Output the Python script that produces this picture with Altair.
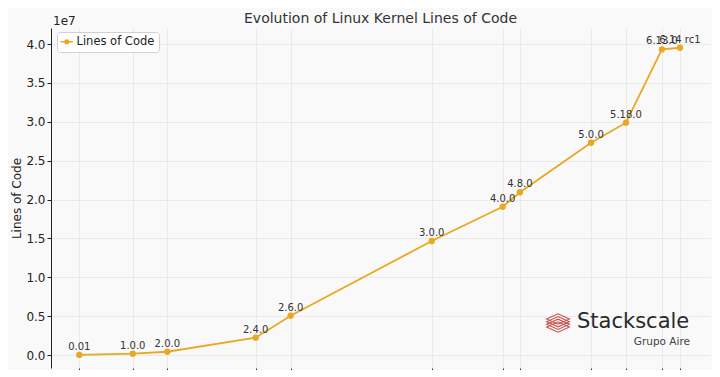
import altair as alt
import pandas as pd

versions = ["0.01", "1.0.0", "2.0.0", "2.4.0", "2.6.0", "3.0.0", "4.0.0",
            "4.8.0", "5.0.0", "5.18.0", "6.13.0", "6.14 rc1"]
years = [1991.70, 1994.67, 1996.59, 2001.50, 2003.44, 2011.28, 2015.22,
         2016.18, 2020.13, 2022.07, 2024.07, 2025.07]
loc = [10239, 176250, 420000, 2230000, 5050000, 14660000, 19070000,
       20930000, 27300000, 29880000, 39300000, 39520000]
y_ticks = [0, 5e6, 1e7, 1.5e7, 2e7, 2.5e7, 3e7, 3.5e7, 4e7]

df = pd.DataFrame({"version": versions, "year": years, "loc": loc,
                   "series": ["Lines of Code"] * len(versions)})

ORANGE = "#E9A820"
FONT = "DejaVu Sans"

x_enc = alt.X("year:Q", scale=alt.Scale(domain=[1990.128, 2026.74], nice=False, zero=False),
              axis=alt.Axis(values=years, labels=False, title=None, domain=False,
                            tickSize=3, tickColor="#333", grid=True,
                            gridColor="#e6e6e6", gridWidth=0.8))
y_enc = alt.Y("loc:Q", scale=alt.Scale(domain=[-1.67e6, 4.206e7], nice=False, zero=False),
              axis=alt.Axis(values=y_ticks, labelExpr="format(datum.value/1e7, '.1f')",
                            title="Lines of Code", titleFontWeight="normal",
                            titleFontSize=12, titleColor="#222", titlePadding=2,
                            labelFontSize=12, labelColor="#222", labelPadding=2,
                            tickSize=4, tickColor="#222", domainColor="#222",
                            domainWidth=1, grid=True, gridColor="#e6e6e6",
                            gridWidth=0.8))

base = alt.Chart(df)

legend_path = "M-1.6,0H1.6M-0.45,0a0.45,0.45 0 1,0 0.9,0a0.45,0.45 0 1,0 -0.9,0"

line = base.mark_line(strokeWidth=1.8).encode(
    x=x_enc, y=y_enc,
    color=alt.Color("series:N", scale=alt.Scale(range=[ORANGE]),
                    legend=alt.Legend(title=None, orient="none", legendX=6, legendY=4,
                                      symbolType=legend_path, symbolSize=60,
                                      symbolStrokeWidth=1.6, symbolFillColor=ORANGE,
                                      labelFontSize=11.5, labelColor="#222", labelFont=FONT,
                                      fillColor="white", strokeColor="#d0d0d0",
                                      cornerRadius=3, padding=4)),
)
points = base.mark_circle(size=40, opacity=1, color=ORANGE).encode(x="year:Q", y="loc:Q")
labels = base.mark_text(fontSize=10, color="#333", font=FONT, baseline="bottom",
                        dy=-3).encode(x="year:Q", y="loc:Q", text="version:N")

one = pd.DataFrame({"k": [0]})
deco = alt.Chart(one)
title = deco.mark_text(text="Evolution of Linux Kernel Lines of Code", fontSize=14,
                       font=FONT, color="#333", align="center",
                       baseline="middle").encode(x=alt.value(329.5), y=alt.value(-9))
exp = deco.mark_text(text="1e7", fontSize=12, font=FONT, color="#222", align="left",
                     baseline="middle").encode(x=alt.value(2), y=alt.value(-7))
brand = deco.mark_text(text="Stackscale", fontSize=21, font=FONT, color="#2a2a2a",
                       align="left", baseline="middle").encode(x=alt.value(526), y=alt.value(294))
sub = deco.mark_text(text="Grupo Aire", fontSize=10.5, font=FONT, color="#444",
                     align="right", baseline="middle").encode(x=alt.value(639), y=alt.value(314))
diamond = "M-1,0L0,-0.45L1,0L0,0.45Z"
icons = [
    deco.mark_point(shape=diamond, filled=False, color="#c8524e", strokeWidth=1.1,
                    opacity=1, size=s).encode(x=alt.value(507), y=alt.value(295 + dy))
    for s, dy in [(520, -4), (520, -1.3), (520, 1.3), (520, 4)]
]

chart = alt.layer(line, points, labels, title, exp, brand, sub, *icons).properties(
    width=659, height=340,
    autosize=alt.AutoSizeParams(type="none"),
    padding={"left": 43, "top": 20, "right": 2, "bottom": 2},
    background="#f9f9f9",
).configure_view(stroke=None).configure_axis(labelFont=FONT, titleFont=FONT)

chart.save("out.html", embed_options={"renderer": "svg", "actions": False})
